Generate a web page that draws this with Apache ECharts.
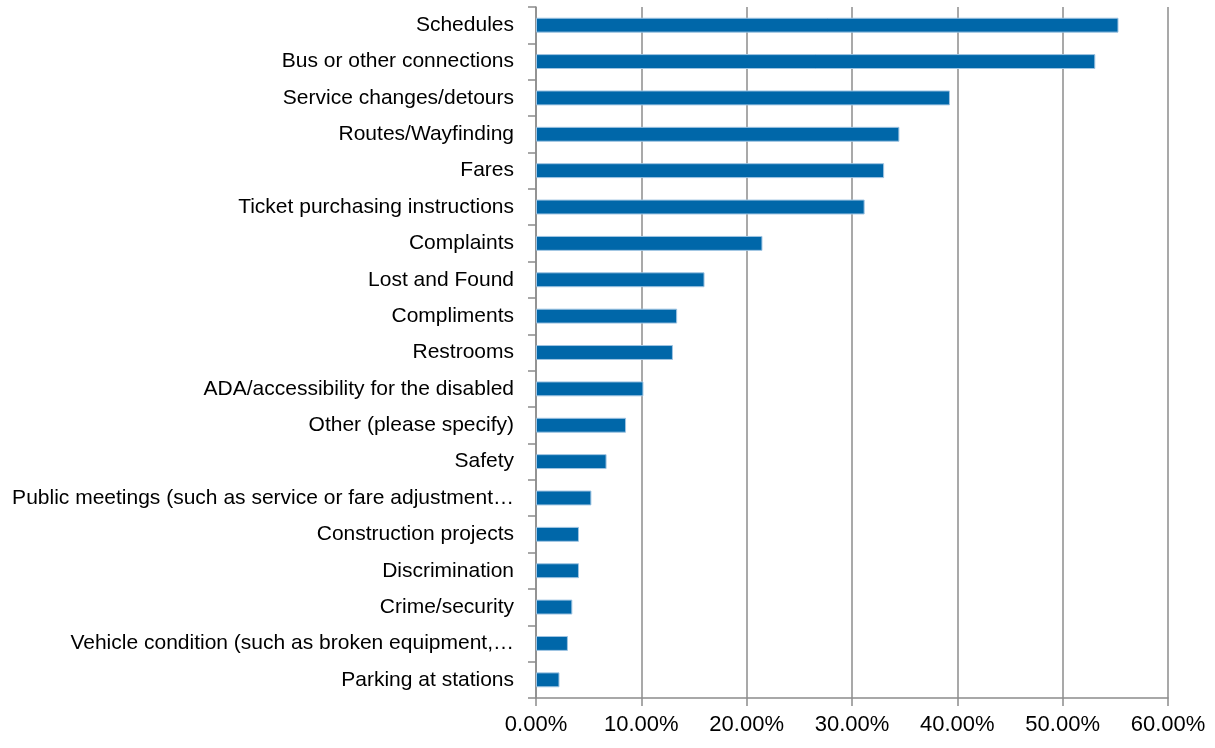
<!DOCTYPE html>
<html>
<head>
<meta charset="utf-8">
<script src="https://cdn.jsdelivr.net/npm/echarts@6/dist/echarts.min.js"></script>
<style>
  html, body { margin: 0; padding: 0; background: #fff; }
  #chart { width: 1215px; height: 748px; }
</style>
</head>
<body>
<div id="chart"></div>
<script>
// Topics respondents want information about, listed top to bottom
const categories = [
  'Schedules',
  'Bus or other connections',
  'Service changes/detours',
  'Routes/Wayfinding',
  'Fares',
  'Ticket purchasing instructions',
  'Complaints',
  'Lost and Found',
  'Compliments',
  'Restrooms',
  'ADA/accessibility for the disabled',
  'Other (please specify)',
  'Safety',
  'Public meetings (such as service or fare adjustment\u2026',
  'Construction projects',
  'Discrimination',
  'Crime/security',
  'Vehicle condition (such as broken equipment,\u2026',
  'Parking at stations'
];

// Share of respondents, in percent
const shares = [
  55.3, 53.1, 39.3, 34.5, 33.05, 31.2, 21.5, 16.0, 13.4, 13.0,
  10.2, 8.55, 6.7, 5.26, 4.08, 4.08, 3.45, 3.03, 2.23
];

// Value-axis ticks (percent)
const axisMin = 0;
const axisMax = 60;
const axisStep = 10;

const chart = echarts.init(document.getElementById('chart'), null, { renderer: 'canvas' });

const font = 'Liberation Sans, Arial, sans-serif';
const gridGray = '#8c8c8c';

chart.setOption({
  animation: false,
  backgroundColor: '#ffffff',
  grid: { left: 536, right: 47, top: 7, bottom: 50, containLabel: false, outerBoundsMode: 'none' },
  xAxis: {
    type: 'value',
    min: axisMin,
    max: axisMax,
    interval: axisStep,
    axisLine: { show: true, lineStyle: { color: gridGray, width: 1.5 } },
    axisTick: { show: true, length: 8, lineStyle: { color: gridGray, width: 1.5 } },
    splitLine: { show: true, lineStyle: { color: gridGray, width: 1.5 } },
    axisLabel: {
      margin: 16,
      color: '#000',
      fontFamily: font,
      fontSize: 22,
      formatter: v => v.toFixed(2) + '%'
    }
  },
  yAxis: {
    type: 'category',
    data: categories,
    inverse: true,
    axisLine: { show: true, lineStyle: { color: gridGray, width: 1.5 } },
    axisTick: { show: true, length: 8, alignWithLabel: false, lineStyle: { color: gridGray, width: 1.5 } },
    splitLine: { show: false },
    axisLabel: {
      margin: 22,
      color: '#000',
      fontFamily: font,
      fontSize: 21,
      interval: 0
    }
  },
  series: [{
    type: 'bar',
    data: shares,
    barCategoryGap: '59%',
    itemStyle: {
      color: '#0067a9',
      borderColor: '#9fc4e2',
      borderWidth: 1
    }
  }]
});
</script>
</body>
</html>
